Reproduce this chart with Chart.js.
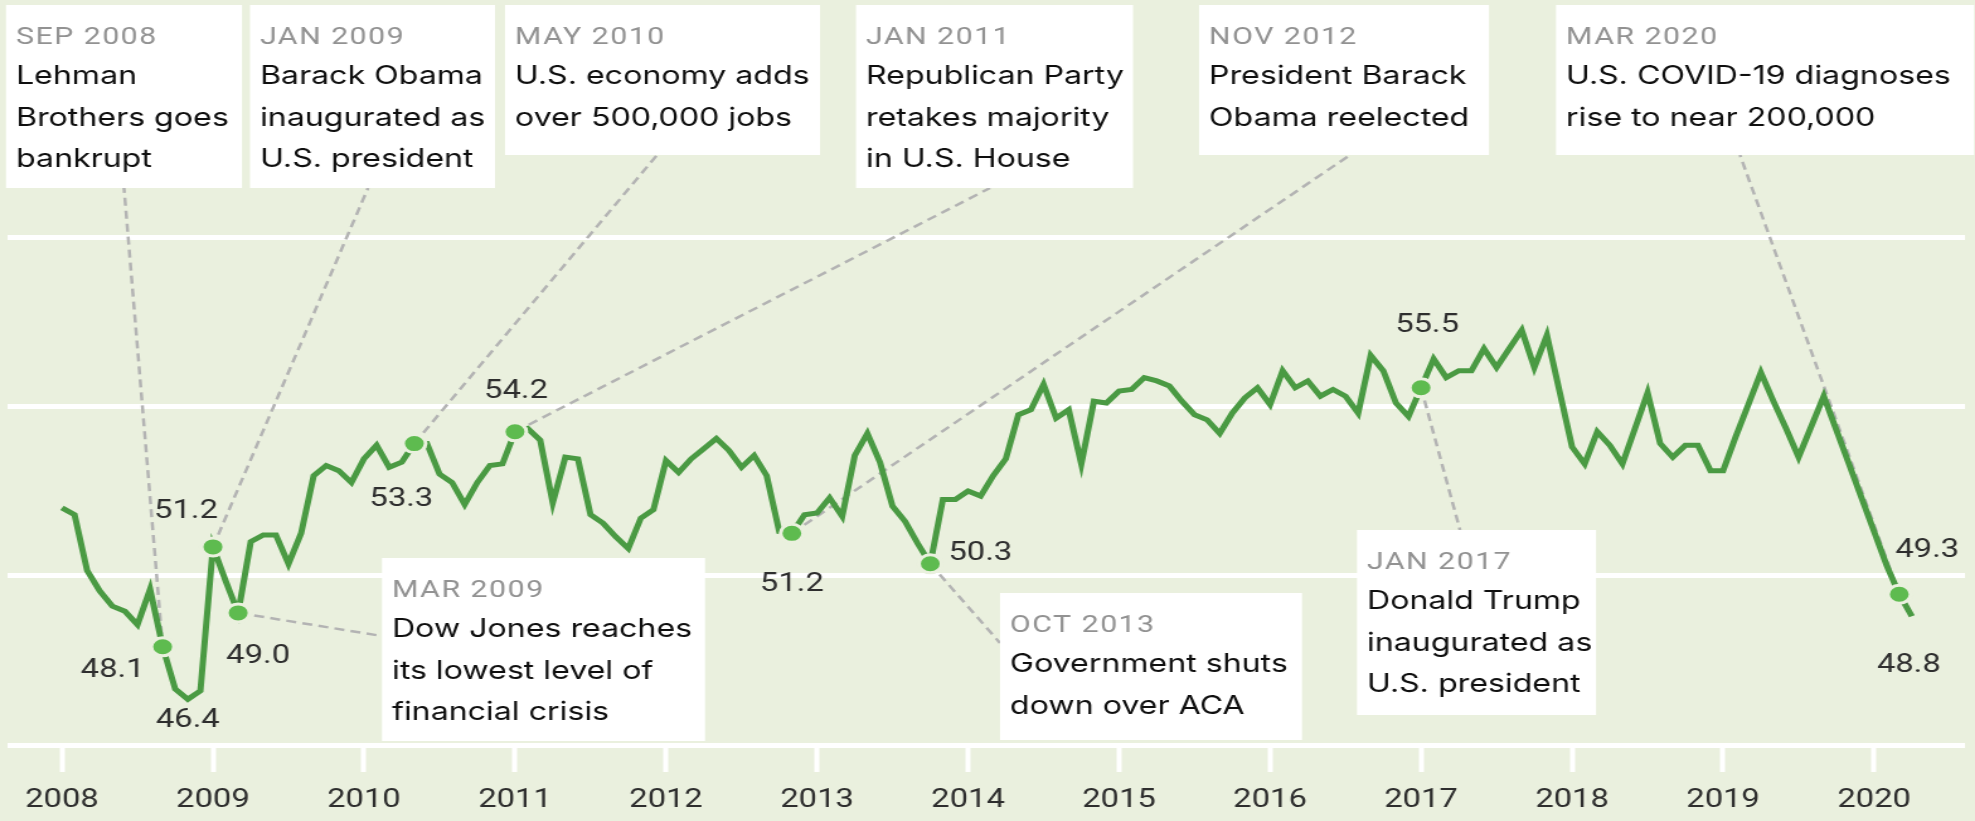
<!DOCTYPE html>
<html>
<head>
<meta charset="utf-8">
<script src="https://cdn.jsdelivr.net/npm/chart.js@4.4.1/dist/chart.umd.min.js"></script>
<style>
  html, body { margin: 0; padding: 0; background: #EAF0DE; }
  #wrap { width: 1975px; height: 821px; overflow: hidden; }
</style>
</head>
<body>
<!-- the source picture is stretched sideways, so the canvas is too -->
<div id="wrap"><canvas id="chart" width="1568" height="821" style="width:1975px;height:821px;display:block"></canvas></div>
<script>
// DATA
const startYear = 2008;
const yearTicks = [2008, 2009, 2010, 2011, 2012, 2013, 2014, 2015, 2016, 2017, 2018, 2019, 2020];
const gridValues = [45, 50, 55, 60];

// monthly values, Jan 2008 .. Apr 2020
const values = [
  52.0, 51.8, 50.15, 49.55, 49.1, 48.95, 48.55, 49.6, 47.9, 46.65, 46.35, 46.6,
  50.85, 49.85, 48.9, 51.0, 51.2, 51.2, 50.35, 51.25, 52.95, 53.25, 53.1, 52.75,
  53.45, 53.85, 53.2, 53.35, 53.9, 53.9, 53.0, 52.75, 52.1, 52.75, 53.25, 53.3,
  54.25, 54.35, 54.0, 52.15, 53.5, 53.45, 51.8, 51.55, 51.15, 50.8, 51.7, 51.95,
  53.4, 53.05, 53.45, 53.75, 54.05, 53.7, 53.2, 53.55, 52.95, 51.3, 51.25, 51.8,
  51.85, 52.3, 51.75, 53.55, 54.2, 53.35, 52.05, 51.6, 50.95, 50.35, 52.25, 52.25,
  52.5, 52.35, 52.95, 53.45, 54.75, 54.9, 55.65, 54.65, 54.9, 53.3, 55.15, 55.1,
  55.45, 55.5, 55.85, 55.75, 55.6, 55.15, 54.75, 54.6, 54.2, 54.8, 55.25, 55.55,
  55.05, 56.05, 55.55, 55.75, 55.3, 55.5, 55.3, 54.8, 56.5, 56.05, 55.1, 54.7,
  55.55, 56.4, 55.85, 56.05, 56.05, 56.7, 56.15, 56.7, 57.25, 56.15, 57.1, 55.45,
  53.8, 53.3, 54.25, 53.85, 53.3, 54.35, 55.4, 53.9, 53.5, 53.85, 53.85, 53.1,
  53.1, 54.1, 55.05, 56.0, 55.15, 54.35, 53.5, 54.4, 55.3, 54.3, 53.3, 52.3,
  51.3, 50.3, 49.45, 48.8
];

// months with a dot on the line
const markedMonths = [8, 12, 14, 28, 36, 58, 69, 108, 146];

// value labels
const labelMonths = [8, 10, 12, 14, 28, 36, 58, 69, 108, 146, 147];
const labelTexts = ["48.1", "46.4", "51.2", "49.0", "53.3", "54.2", "51.2", "50.3", "55.5", "49.3", "48.8"];

// events
const eventMonths = [8, 12, 28, 36, 58, 146, 14, 69, 108];
const eventDates = ["SEP 2008", "JAN 2009", "MAY 2010", "JAN 2011", "NOV 2012", "MAR 2020", "MAR 2009", "OCT 2013", "JAN 2017"];
const eventLines = [
  ["Lehman", "Brothers goes", "bankrupt"],
  ["Barack Obama", "inaugurated as", "U.S. president"],
  ["U.S. economy adds", "over 500,000 jobs"],
  ["Republican Party", "retakes majority", "in U.S. House"],
  ["President Barack", "Obama reelected"],
  ["U.S. COVID-19 diagnoses", "rise to near 200,000"],
  ["Dow Jones reaches", "its lowest level of", "financial crisis"],
  ["Government shuts", "down over ACA"],
  ["Donald Trump", "inaugurated as", "U.S. president"]
];

// LAYOUT (screen pixels of the 1975 wide picture)
const S = 1975 / 1568;
const eventBoxes = [
  [6, 5, 236, 183], [250, 5, 245, 183], [505, 5, 315, 150], [856, 5, 277, 183],
  [1199, 5, 290, 150], [1556, 5, 418, 150], [382, 558, 323, 183], [1000, 593, 302, 147],
  [1357, 530, 239, 185]
];
const eventAnchors = [
  [124, 188], [368, 188], [657, 155], [990, 188], [1350, 155], [1740, 155],
  [382, 636], [1000, 643], [1460, 530]
];
const labelOffsets = [
  [-50, 24], [0, 21], [-27, -35], [20, 44], [-13, 56], [1, -40],
  [0, 51], [50, -10], [6, -62], [28, -44], [-3, 49]
];

const BG = "#EAF0DE";
const LINE = "#4A9A43";
const DOT = "#5EBB4F";
const LEADER = "#B3B3B3";

Chart.defaults.font.family = "Roboto";

const annotations = {
  id: "annotations",
  beforeDatasetsDraw(chart) {
    const ctx = chart.ctx;
    const pts = chart.getDatasetMeta(0).data;
    ctx.save();
    ctx.strokeStyle = LEADER;
    ctx.lineWidth = 2.5;
    ctx.setLineDash([8, 5]);
    eventMonths.forEach((m, i) => {
      const [ax, ay] = eventAnchors[i];
      ctx.beginPath();
      ctx.moveTo(pts[m].x, pts[m].y);
      ctx.lineTo(ax / S, ay);
      ctx.stroke();
    });
    ctx.restore();
  },
  afterDatasetsDraw(chart) {
    const ctx = chart.ctx;
    const pts = chart.getDatasetMeta(0).data;
    ctx.save();

    // boxes
    eventBoxes.forEach(([bx, by, bw, bh], i) => {
      ctx.fillStyle = "#FFFFFF";
      ctx.fillRect(bx / S, by, bw / S, bh);

      const tx = (bx + 10) / S;
      ctx.textAlign = "left";
      ctx.textBaseline = "alphabetic";

      ctx.font = "24px Roboto";
      ctx.letterSpacing = "1.2px";
      ctx.fillStyle = "#929292";
      ctx.fillText(eventDates[i], tx, by + 39);

      ctx.letterSpacing = "0px";
      ctx.font = "25.5px Inter";
      ctx.fillStyle = "#0F0F0F";
      eventLines[i].forEach((line, j) => {
        ctx.fillText(line, tx, by + 79 + j * 41.5);
      });
    });

    // value labels
    ctx.font = "26px Roboto";
    ctx.fillStyle = "#2E2E2E";
    ctx.textAlign = "center";
    ctx.textBaseline = "middle";
    labelMonths.forEach((m, i) => {
      const [dx, dy] = labelOffsets[i];
      ctx.fillText(labelTexts[i], pts[m].x + dx / S, pts[m].y + dy);
    });

    ctx.restore();
  }
};

const points = values.map((v, i) => ({ x: startYear + i / 12, y: v }));

new Chart(document.getElementById("chart"), {
  type: "line",
  data: {
    datasets: [{
      data: points,
      borderColor: LINE,
      borderWidth: 5,
      tension: 0,
      pointRadius: values.map((v, i) => markedMonths.includes(i) ? 9 : 0),
      pointBackgroundColor: DOT,
      pointBorderColor: BG,
      pointBorderWidth: 3,
      pointHoverRadius: 0
    }]
  },
  options: {
    responsive: false,
    animation: false,
    devicePixelRatio: 1,
    events: [],
    layout: { padding: { top: 237, left: 7 / S, right: 10 / S, bottom: 0 } },
    plugins: {
      legend: { display: false },
      tooltip: { enabled: false }
    },
    scales: {
      x: {
        type: "linear",
        min: 2007.636,
        max: 2020.602,
        afterBuildTicks: s => { s.ticks = yearTicks.map(v => ({ value: v })); },
        afterFit: s => { s.height = 76; },
        border: { display: false },
        grid: {
          drawOnChartArea: false,
          drawTicks: true,
          tickLength: 27,
          tickColor: "#FFFFFF",
          tickWidth: 4
        },
        ticks: {
          autoSkip: false,
          maxRotation: 0,
          padding: 13,
          color: "#2E2E2E",
          font: { family: "Roboto", size: 26 },
          callback: v => String(v)
        }
      },
      y: {
        min: 45,
        max: 60,
        afterBuildTicks: s => { s.ticks = gridValues.map(v => ({ value: v })); },
        afterFit: s => { s.width = 0; },
        border: { display: false },
        grid: { color: "#FFFFFF", lineWidth: 5, drawTicks: false },
        ticks: { display: false }
      }
    }
  },
  plugins: [annotations]
});
</script>
</body>
</html>
